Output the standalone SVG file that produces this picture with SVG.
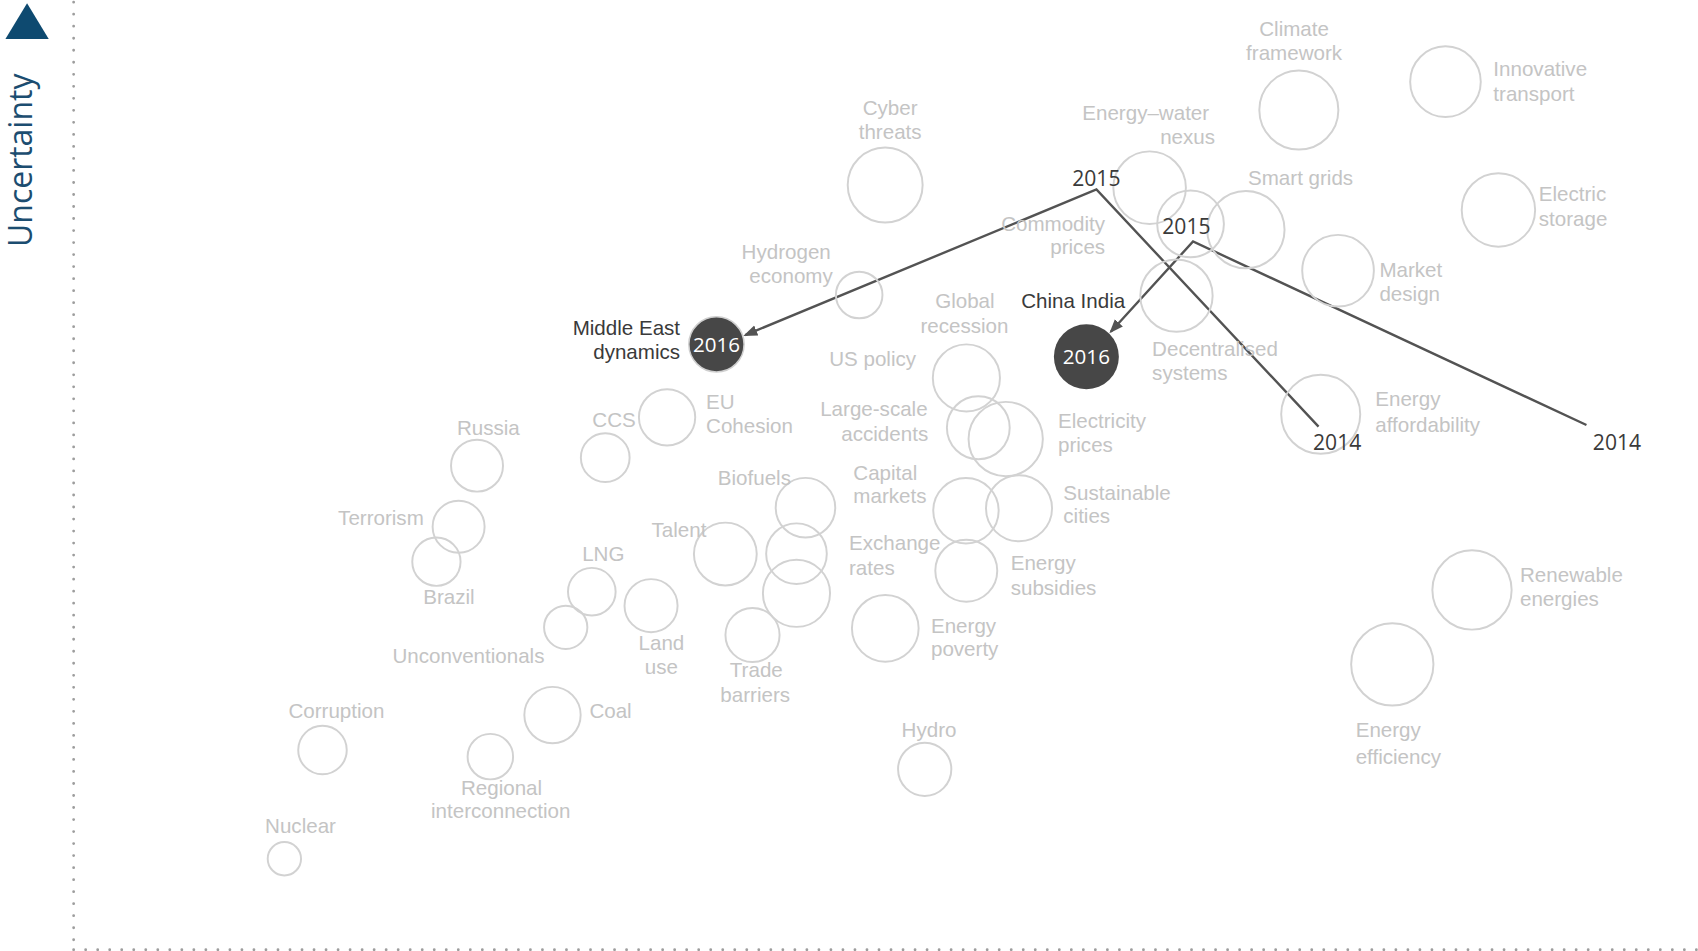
<svg xmlns="http://www.w3.org/2000/svg" width="1698" height="951" viewBox="0 0 1698 951">
<style>
.c{fill:none;stroke:#d2d2d2;stroke-width:1.8}
.l{font-family:"Liberation Sans",Arial,sans-serif;font-size:19px;fill:#c4c4c4}
.m{text-anchor:middle}
.e{text-anchor:end}
.d{font-family:"Liberation Sans",Arial,sans-serif;font-size:19px;fill:#3a3a3a}
.y{font-family:"Open Sans","Liberation Sans",sans-serif;font-size:19.5px;fill:#3a3a3a;text-anchor:middle}
.w{font-family:"Open Sans","Liberation Sans",sans-serif;font-size:19px;fill:#ffffff;text-anchor:middle}
.dk{fill:#474747}
.dot{stroke:#9d9d9d;stroke-width:2.6;stroke-linecap:round;stroke-dasharray:0 11.1;fill:none}
.cn{fill:none;stroke:#535353;stroke-width:2.2;stroke-linejoin:miter}
</style>
<defs>
<marker id="ah" markerUnits="userSpaceOnUse" markerWidth="14" markerHeight="12" refX="11" refY="5" orient="auto">
<path d="M0,0 L13,5 L0,10 z" fill="#535353"/>
</marker>
</defs>
<rect width="1698" height="951" fill="#ffffff"/>
<g transform="scale(1.08291)">
<g id="axis">
<polygon points="5,36 45,36 25,3" fill="#0e4a70"/>
<text transform="translate(30,148) rotate(-90)" text-anchor="middle" font-family="Open Sans, Liberation Sans, sans-serif" font-size="29.5" fill="#1c4d70">Uncertainty</text>
<line class="dot" x1="68" y1="2" x2="68" y2="877"/>
<line class="dot" x1="68" y1="877" x2="1568" y2="877"/>
</g>

<g id="connectors">
<path class="cn" d="M1217.6,394 L1012.5,175 L688.2,309.4" marker-end="url(#ah)"/>
<path class="cn" d="M1465,392.5 L1101.7,223 L1025.8,306.3" marker-end="url(#ah)"/>
</g>

<g id="cyber-threats"><circle class="c" cx="817.4" cy="170.8" r="34.6"/><text class="l m" x="822" y="106">Cyber</text><text class="l m" x="822" y="128">threats</text></g>
<g id="climate-framework"><circle class="c" cx="1199.4" cy="101.6" r="36.5"/><text class="l m" x="1195" y="33">Climate</text><text class="l m" x="1195" y="55">framework</text></g>
<g id="innovative-transport"><circle class="c" cx="1334.8" cy="75.4" r="32.6"/><text class="l" x="1379" y="70">Innovative</text><text class="l" x="1379" y="93">transport</text></g>
<g id="energy-water-nexus"><circle class="c" cx="1061.6" cy="173.3" r="33.5"/><text class="l m" x="1058" y="111">Energy–water</text><text class="l e" x="1122" y="133">nexus</text></g>
<g id="commodity-prices"><circle class="c" cx="1099.4" cy="206.8" r="30.8"/><text class="l e" x="1020.5" y="213">Commodity</text><text class="l e" x="1020.5" y="235">prices</text></g>
<g id="smart-grids"><circle class="c" cx="1150.5" cy="212.1" r="35.7"/><text class="l m" x="1201" y="170.5">Smart grids</text></g>
<g id="electric-storage"><circle class="c" cx="1383.7" cy="193.9" r="33.9"/><text class="l" x="1421" y="186">Electric</text><text class="l" x="1421" y="208.5">storage</text></g>
<g id="market-design"><circle class="c" cx="1235.6" cy="250" r="33.1"/><text class="l" x="1273.8" y="256">Market</text><text class="l" x="1273.8" y="278">design</text></g>
<g id="decentralised-systems"><circle class="c" cx="1086.4" cy="273" r="33.4"/><text class="l" x="1063.9" y="329">Decentralised</text><text class="l" x="1063.9" y="351">systems</text></g>
<g id="energy-affordability"><circle class="c" cx="1219.6" cy="382.6" r="36.5"/><text class="l" x="1270" y="374.5">Energy</text><text class="l" x="1270" y="398.5">affordability</text></g>
<g id="hydrogen-economy"><circle class="c" cx="793.4" cy="272.4" r="21.5"/><text class="l m" x="726" y="239">Hydrogen</text><text class="l m" x="730.5" y="261.5">economy</text></g>
<g id="global-recession"><circle class="c" cx="892.4" cy="349" r="31"/><text class="l m" x="891" y="284.6">Global</text><text class="l m" x="890.6" y="307.7">recession</text></g>
<g id="us-policy"><text class="l m" x="805.8" y="338.4">US policy</text></g>
<g id="china-india"><circle class="dk" cx="1003.2" cy="329.4" r="30"/><text class="d m" x="991" y="284.6">China India</text><text class="w" x="1003.2" y="336.2">2016</text></g>
<g id="middle-east-dynamics"><circle class="dk" cx="661.6" cy="318" r="25.5" stroke="#cfcfcf" stroke-width="1.4"/><text class="d e" x="628" y="309.2">Middle East</text><text class="d e" x="628" y="331.7">dynamics</text><text class="w" x="661.6" y="324.6">2016</text></g>
<g id="eu-cohesion"><circle class="c" cx="616" cy="385.4" r="26"/><text class="l" x="652" y="378">EU</text><text class="l" x="652" y="400">Cohesion</text></g>
<g id="ccs"><circle class="c" cx="558.9" cy="422.6" r="22.5"/><text class="l m" x="567" y="394.5">CCS</text></g>
<g id="russia"><circle class="c" cx="440.5" cy="430" r="24"/><text class="l m" x="451" y="401.5">Russia</text></g>
<g id="terrorism"><circle class="c" cx="423.5" cy="486.4" r="24"/><text class="l m" x="351.8" y="484.7">Terrorism</text></g>
<g id="brazil"><circle class="c" cx="403" cy="518.7" r="22.3"/><text class="l m" x="414.6" y="557.6">Brazil</text></g>
<g id="large-scale-accidents"><circle class="c" cx="903.4" cy="395" r="29"/><text class="l m" x="807" y="384.6">Large-scale</text><text class="l m" x="817" y="406.8">accidents</text></g>
<g id="electricity-prices"><circle class="c" cx="928.7" cy="405.4" r="34.3"/><text class="l" x="977" y="395.4">Electricity</text><text class="l" x="977" y="417">prices</text></g>
<g id="biofuels"><circle class="c" cx="743.8" cy="468.8" r="27.5"/><text class="l m" x="696.6" y="447.7">Biofuels</text></g>
<g id="capital-markets"><circle class="c" cx="892" cy="471.6" r="30.2"/><text class="l" x="788" y="443">Capital</text><text class="l" x="788" y="464.6">markets</text></g>
<g id="sustainable-cities"><circle class="c" cx="941" cy="469.4" r="30.5"/><text class="l" x="981.9" y="461.5">Sustainable</text><text class="l" x="981.9" y="483.1">cities</text></g>
<g id="talent"><circle class="c" cx="669.8" cy="511.6" r="29"/><text class="l m" x="627" y="496">Talent</text></g>
<g id="unlabelled"><circle class="c" cx="735.5" cy="511.3" r="28"/></g>
<g id="exchange-rates"><circle class="c" cx="735.5" cy="547.9" r="31"/><text class="l" x="784" y="508.3">Exchange</text><text class="l" x="784" y="530.8">rates</text></g>
<g id="energy-subsidies"><circle class="c" cx="892.3" cy="527" r="28.6"/><text class="l" x="933.3" y="526.8">Energy</text><text class="l" x="933.3" y="549.3">subsidies</text></g>
<g id="lng"><circle class="c" cx="546.5" cy="546.4" r="22"/><text class="l m" x="557.1" y="517.9">LNG</text></g>
<g id="unconventionals"><circle class="c" cx="522.4" cy="579.3" r="20"/><text class="l m" x="432.6" y="612.4">Unconventionals</text></g>
<g id="land-use"><circle class="c" cx="601.2" cy="559.3" r="24.5"/><text class="l m" x="610.8" y="600.1">Land</text><text class="l m" x="610.8" y="622.2">use</text></g>
<g id="trade-barriers"><circle class="c" cx="694.9" cy="586.4" r="25"/><text class="l m" x="698.4" y="625.6">Trade</text><text class="l m" x="697.4" y="647.8">barriers</text></g>
<g id="energy-poverty"><circle class="c" cx="817.5" cy="580.2" r="30.8"/><text class="l" x="859.7" y="584.7">Energy</text><text class="l" x="859.7" y="606.2">poverty</text></g>
<g id="renewable-energies"><circle class="c" cx="1359.3" cy="544.8" r="36.6"/><text class="l" x="1403.6" y="537">Renewable</text><text class="l" x="1403.6" y="559.4">energies</text></g>
<g id="energy-efficiency"><circle class="c" cx="1285.7" cy="613.5" r="38"/><text class="l" x="1251.9" y="680.7">Energy</text><text class="l" x="1251.9" y="705.7">efficiency</text></g>
<g id="coal"><circle class="c" cx="510.2" cy="660.3" r="26"/><text class="l m" x="563.8" y="663.2">Coal</text></g>
<g id="corruption"><circle class="c" cx="297.8" cy="692.6" r="22.4"/><text class="l m" x="310.7" y="663.2">Corruption</text></g>
<g id="regional-interconnection"><circle class="c" cx="452.8" cy="698.7" r="21"/><text class="l m" x="463.1" y="734">Regional</text><text class="l m" x="462.4" y="755.5">interconnection</text></g>
<g id="hydro"><circle class="c" cx="853.9" cy="710.4" r="24.6"/><text class="l m" x="857.9" y="680.7">Hydro</text></g>
<g id="nuclear"><circle class="c" cx="262.6" cy="793" r="15.4"/><text class="l m" x="277.5" y="769.4">Nuclear</text></g>

<g id="year-labels">
<text class="y" x="1012.4" y="171.5">2015</text>
<text class="y" x="1095.6" y="216">2015</text>
<text class="y" x="1234.8" y="416">2014</text>
<text class="y" x="1493.2" y="415.5">2014</text>
</g>
</g>
</svg>
